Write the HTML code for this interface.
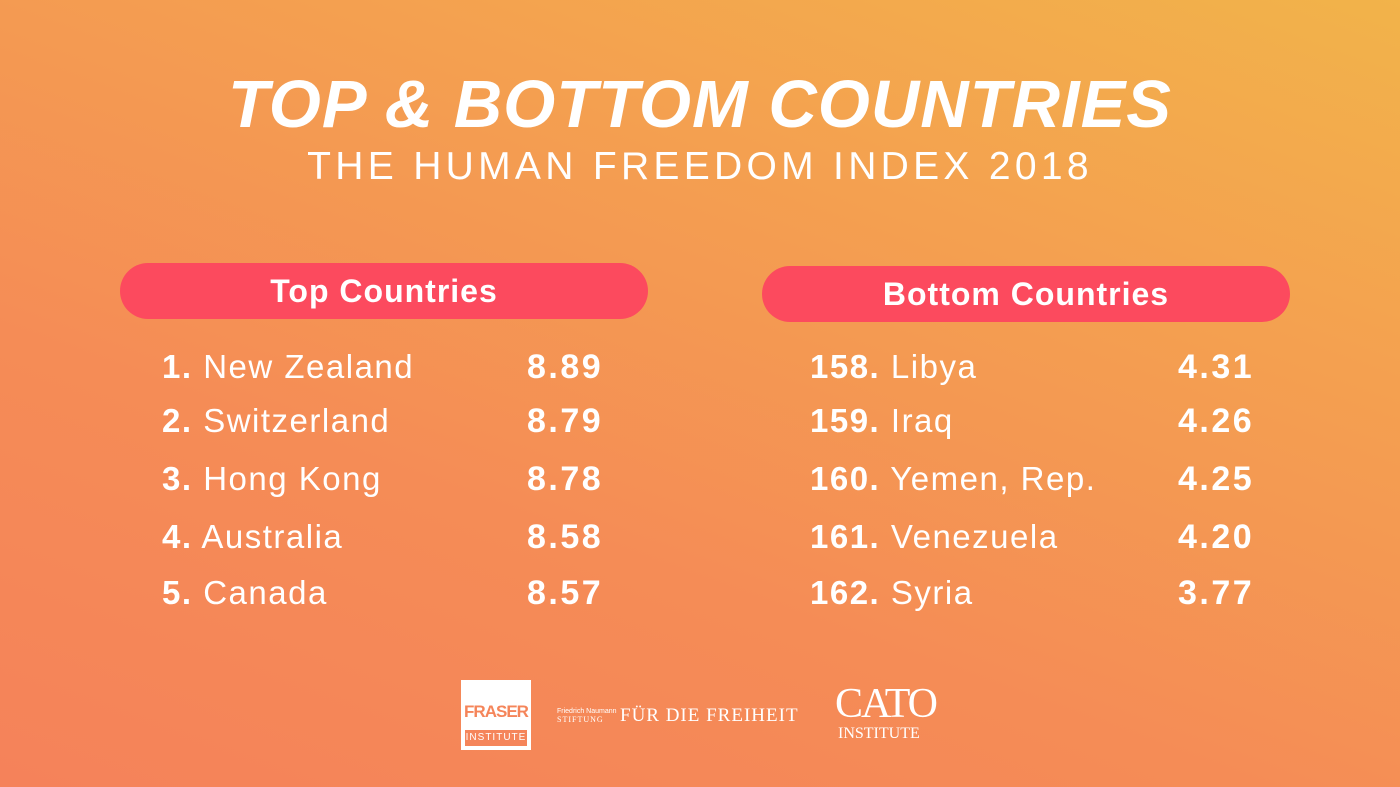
<!DOCTYPE html><html><head><style>
body{margin:0;width:1400px;height:787px;overflow:hidden;font-family:"Liberation Sans",sans-serif;color:#fff;
background:linear-gradient(200deg,#f2b34a 0%,#f4a050 30%,#f58c56 65%,#f5825a 100%);position:relative}
.a{position:absolute;white-space:nowrap}
.t{left:0;width:1400px;text-align:center}
.pill{position:absolute;background:#fc4a5e;border-radius:28px;height:56px;width:528px;text-align:center;font-weight:bold;font-size:32px;line-height:56px;letter-spacing:1px}
.r{position:absolute;font-size:33px;line-height:40px;letter-spacing:1.5px}
.s{position:absolute;font-size:34px;line-height:40px;letter-spacing:2.5px;font-weight:bold}
.r b{font-weight:bold}
</style></head><body>
<div class="a t" style="top:66px;font-size:67px;font-weight:bold;font-style:italic;letter-spacing:1px">TOP &amp; BOTTOM COUNTRIES</div>
<div class="a t" style="top:145px;font-size:39px;letter-spacing:4.3px;font-weight:300">THE HUMAN FREEDOM INDEX 2018</div>
<div class="pill" style="left:120px;top:263px">Top Countries</div>
<div class="pill" style="left:762px;top:266px">Bottom Countries</div>
<div class="r" style="left:162px;top:347px"><b>1.</b> New Zealand</div><div class="s" style="left:527px;top:347px">8.89</div>
<div class="r" style="left:162px;top:401px"><b>2.</b> Switzerland</div><div class="s" style="left:527px;top:401px">8.79</div>
<div class="r" style="left:162px;top:459px"><b>3.</b> Hong Kong</div><div class="s" style="left:527px;top:459px">8.78</div>
<div class="r" style="left:162px;top:517px"><b>4.</b> Australia</div><div class="s" style="left:527px;top:517px">8.58</div>
<div class="r" style="left:162px;top:573px"><b>5.</b> Canada</div><div class="s" style="left:527px;top:573px">8.57</div>
<div class="r" style="left:810px;top:347px"><b>158.</b> Libya</div><div class="s" style="left:1178px;top:347px">4.31</div>
<div class="r" style="left:810px;top:401px"><b>159.</b> Iraq</div><div class="s" style="left:1178px;top:401px">4.26</div>
<div class="r" style="left:810px;top:459px"><b>160.</b> Yemen, Rep.</div><div class="s" style="left:1178px;top:459px">4.25</div>
<div class="r" style="left:810px;top:517px"><b>161.</b> Venezuela</div><div class="s" style="left:1178px;top:517px">4.20</div>
<div class="r" style="left:810px;top:573px"><b>162.</b> Syria</div><div class="s" style="left:1178px;top:573px">3.77</div>
<div class="a" style="left:461px;top:680px;width:66px;height:66px;background:#fff;border:2px solid #fff">
<div style="color:#f5855a;font-weight:bold;font-size:17px;text-align:center;margin-top:20px;letter-spacing:-1px">FRASER</div>
<div style="position:absolute;left:2px;right:2px;bottom:2px;height:16px;background:#f5855a;font-size:10px;text-align:center;line-height:16px;letter-spacing:1px">INSTITUTE</div></div>
<div class="a" style="left:557px;top:708px;font-size:7px;line-height:8px">Friedrich Naumann<br><span style="font-family:'Liberation Serif',serif;font-size:8px;letter-spacing:1px">STIFTUNG</span></div>
<div class="a" style="left:620px;top:705px;font-family:'Liberation Serif',serif;font-size:19px;letter-spacing:1px">FÜR DIE FREIHEIT</div>
<div class="a" style="left:835px;top:684px;font-family:'Liberation Serif',serif;font-size:42px;letter-spacing:-2px;line-height:40px">CATO</div>
<div class="a" style="left:838px;top:726px;font-family:'Liberation Serif',serif;font-size:16px;line-height:16px">INSTITUTE</div>
</body></html>
